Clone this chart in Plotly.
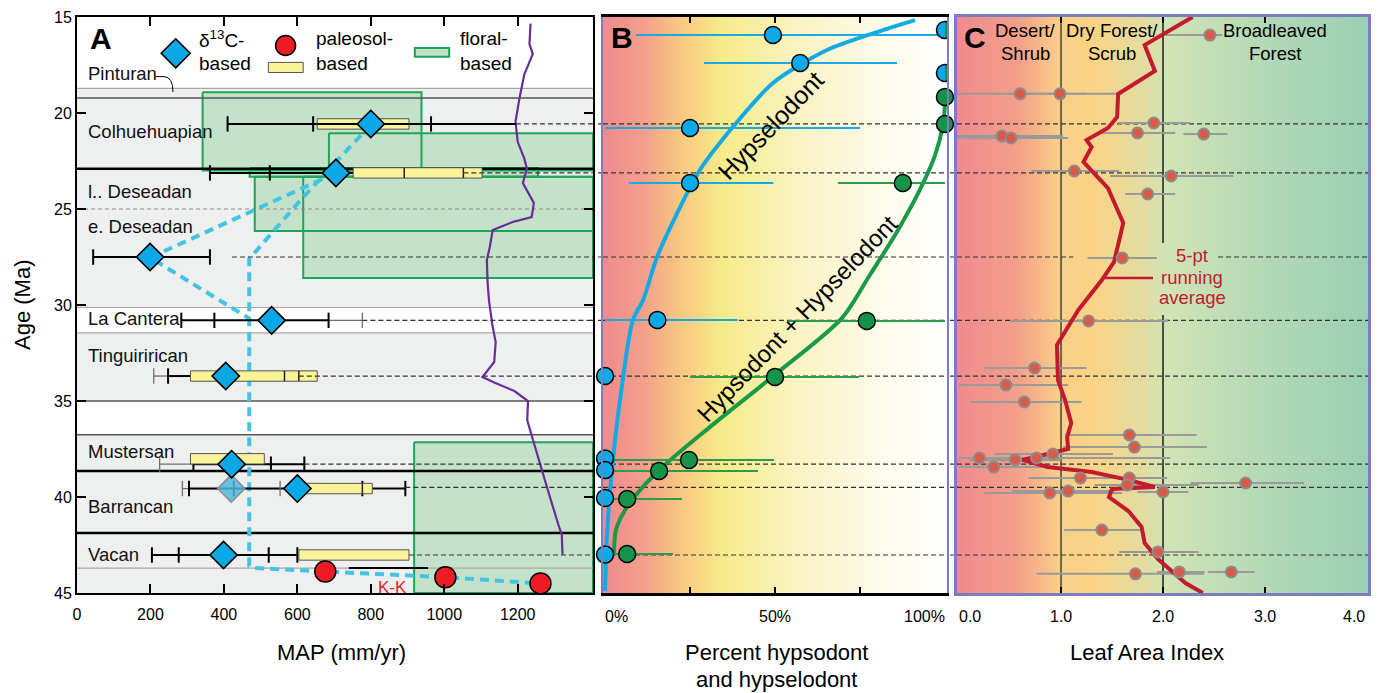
import plotly.graph_objects as go

# The page is shown with the browser's default 8px body margin, so the figure is
# made 8px smaller and every layout position is expressed in reference pixels minus 8.
OFF = 8
W, H = 1381 - OFF, 693 - OFF
FONT = "Liberation Sans, Arial, Helvetica, sans-serif"


def px(x):
    return (x - OFF) / W


def py(y):
    return 1 - (y - OFF) / H


# ---------------- Panel A data ----------------
map_ticks = [0, 200, 400, 600, 800, 1000, 1200]
age_ticks = [15, 20, 25, 30, 35, 40, 45]

stage_names = ["Pinturan", "Colhuehuapian", "l.. Deseadan", "e. Deseadan", "La Cantera",
               "Tinguirirican", "Mustersan", "Barrancan", "Vacan"]
stage_label_age = [17.95, 20.97, 24.09, 25.9, 30.69, 32.63, 37.63, 40.5, 43.01]

band_top = [18.72, 31.45, 36.76]
band_bottom = [30.13, 35.0, 45.0]
boundary_age = [18.72, 19.22, 22.9, 25.0, 30.13, 31.45, 35.0, 36.76, 38.65, 41.88, 43.7]
boundary_kind = ["thin", "mid", "thick", "dash", "thin", "thin", "mid", "mid", "thick", "thick", "thin"]

# floral-based MAP boxes
flo_map_lo = [342, 686, 470, 484, 616, 918]
flo_map_hi = [938, 1405, 1255, 1405, 1405, 1405]
flo_age_top = [18.92, 21.06, 22.87, 23.32, 23.32, 37.15]
flo_age_bot = [23.0, 23.0, 23.32, 26.15, 28.6, 45.0]

# d13C-based MAP
d13c_age = [20.57, 23.12, 27.5, 30.8, 33.7, 38.29, 39.56, 43.02]
d13c_map = [800, 705, 199, 530, 405, 421, 600, 399]
d13c_alt_age = [39.56]
d13c_alt_map = [420]

# error bars (black and grey)
eb_age = [20.57, 23.12, 27.5, 30.8, 33.7, 38.29, 39.56, 43.02]
eb_lo = [410, 362, 44, 284, 248, 317, 305, 204]
eb_hi = [1195, 752, 362, 685, 309, 619, 894, 604]
geb_age = [30.8, 33.7, 38.29, 39.56]
geb_lo = [685, 209, 225, 287]
geb_hi = [777, 248, 317, 553]
cap_age = [20.57, 20.57, 20.57, 23.12, 23.12, 27.5, 27.5, 30.8, 30.8, 30.8, 33.7,
           38.29, 38.29, 38.29, 39.56, 39.56, 39.56, 39.56, 43.02, 43.02, 43.02, 43.02]
cap_map = [410, 643, 964, 362, 525, 44, 362, 284, 374, 685, 248,
           317, 528, 619, 305, 427, 777, 894, 204, 277, 522, 600]
gcap_age = [30.8, 33.7, 38.29, 39.56, 39.56]
gcap_map = [777, 209, 225, 287, 553]

# paleosol-based MAP boxes and points
pbox_age = [20.57, 23.12, 33.7, 38.01, 39.56, 43.02]
pbox_lo = [654, 752, 309, 309, 620, 604]
pbox_hi = [904, 1103, 654, 510, 804, 904]
pdiv_age = [23.12, 23.12, 33.7, 33.7, 39.56]
pdiv_map = [891, 1052, 565, 604, 777]
pal_age = [43.88, 44.18, 44.5]
pal_map = [676, 1003, 1262]
pal_bar_age = [43.7]
pal_bar_lo = [740]
pal_bar_hi = [956]

# connecting (blue dashed) paths
conn1_map = [800, 779, 616, 469, 469, 482, 676, 1003, 1262]
conn1_age = [20.57, 21.04, 24.38, 27.6, 43.58, 43.7, 43.88, 44.18, 44.5]
conn2_map = [705, 199, 469]
conn2_age = [23.12, 27.53, 30.7]

# purple curve
purple_map = [1235, 1232, 1241, 1218, 1205, 1194, 1200, 1218, 1225, 1214, 1244, 1238, 1186, 1132,
              1124, 1116, 1118, 1122, 1131, 1140, 1136, 1104, 1136, 1191, 1228, 1226, 1242, 1265,
              1283, 1311, 1320, 1322]
purple_age = [15.34, 16.4, 16.93, 17.98, 19.21, 20.45, 21.5, 22.38, 22.9, 23.65, 24.69, 25.42, 25.68,
              26.09, 26.98, 27.66, 28.85, 29.8, 31.04, 31.93, 32.97, 33.75, 34.04, 34.48, 35.0, 36.0,
              37.06, 38.47, 39.7, 41.46, 41.98, 43.0]

# dashed correlation lines (ages) and their start in panel A
corr_age = [20.57, 23.12, 27.5, 30.8, 33.7, 38.29, 39.5, 43.02]
corr_start_map = [1195, 1052, 422, 777, 604, 619, 894, 904]

# ---------------- Panel B data ----------------
pct_tick_vals = [0, 50, 100]
pct_tick_text = ["0%", "50%", "100%"]

hyp_curve_pct = [0, 0.6, 2.1, 4.4, 8.2, 11.2, 15.3, 22.1, 27.9, 37.6, 49.4, 65.3, 81.8, 91.2]
hyp_curve_age = [44.9, 41.88, 38.44, 34.95, 30.78, 29.74, 27.5, 24.9, 22.97, 20.73, 18.44, 16.72, 15.68, 15.16]
hh_curve_pct = [2.6, 3.2, 5.9, 10.3, 18.2, 30.9, 50.6, 69.7, 77.9, 86.2, 92.6, 97.1, 99.4, 100.0]
hh_curve_age = [42.92, 41.72, 40.68, 39.64, 38.23, 36.35, 33.54, 30.68, 28.44, 26.09, 24.01, 22.19, 20.63, 19.58]

hyp_age = [15.94, 17.4, 20.78, 23.65, 30.78, 33.7, 38.0, 38.6, 40.05, 43.0]
hyp_pct = [49.4, 57.4, 25.0, 25.0, 15.4, 0, 0, 0, 0, 0]
hyp_lo = [9.1, 29.1, 0.0, 7.0, 0.0, 0, 0, 0, 0, 0]
hyp_hi = [100, 85.9, 75.0, 49.5, 39.0, 0, 0, 0, 0, 0]

hh_age = [19.17, 20.57, 23.65, 30.83, 33.75, 38.07, 38.65, 40.1, 42.97]
hh_pct = [100, 100, 87.6, 77.0, 50.0, 24.7, 15.9, 6.5, 6.5]
hh_lo = [100, 100, 68.5, 53.8, 25.0, 0, 0, 0, 0]
hh_hi = [100, 100, 100, 100, 74.7, 49.7, 45.0, 22.6, 20.0]

split_age = [15.68, 17.92]
split_pct = [100, 100]

# ---------------- Panel C data ----------------
lai_tick_vals = [0, 1, 2, 3, 4]
lai_tick_text = ["0.0", "1.0", "2.0", "3.0", "4.0"]

lai = [2.46, 0.60, 0.99, 1.91, 0.42, 0.51, 1.75, 2.40, 1.13, 2.08, 1.85, 1.60, 1.27, 0.74, 0.46,
       0.64, 1.67, 1.72, 0.92, 0.20, 0.76, 0.55, 0.34, 1.19, 1.67, 1.65, 2.81, 1.07, 0.89, 2.00,
       1.40, 1.95, 1.73, 2.16, 2.67]
lai_age = [15.94, 19.0, 19.0, 20.52, 21.2, 21.3, 21.04, 21.1, 23.02, 23.28, 24.22, 27.55, 30.83,
           33.28, 34.17, 35.05, 36.77, 37.40, 37.76, 37.97, 37.97, 38.07, 38.44, 39.01, 39.01, 39.38,
           39.27, 39.69, 39.79, 39.74, 41.72, 42.86, 44.0, 43.9, 43.9]
lai_lo = [2.02, -0.04, 0.48, 1.56, -0.04, -0.04, 1.40, 2.20, 0.71, 1.48, 1.63, 1.26, 0.50, 0.25, 0.0,
          0.11, 1.04, 1.02, 0.35, 0.0, 0.35, 0.10, 0.0, 0.68, 1.33, 1.33, 2.27, 0.52, 0.25, 1.75,
          1.03, 1.57, 0.76, 1.94, 2.44]
lai_hi = [2.58, 1.25, 1.55, 2.27, 1.02, 1.07, 2.12, 2.63, 1.57, 2.69, 2.12, 1.94, 2.05, 1.25, 1.07,
          1.20, 2.33, 2.43, 1.51, 1.33, 2.07, 1.00, 0.94, 2.04, 1.99, 2.35, 3.38, 1.53, 1.60, 2.25,
          1.78, 2.35, 2.40, 2.41, 2.90]

run_lai = [2.29, 1.82, 1.92, 1.56, 1.55, 1.46, 1.25, 1.30, 1.22, 1.46, 1.61, 1.52, 1.40, 1.17, 0.96,
           0.97, 1.04, 1.10, 1.06, 1.07, 0.91, 0.62, 0.87, 1.30, 1.66, 1.92, 1.50, 1.47, 1.66, 1.79,
           1.82, 1.95, 2.22, 2.39]
run_age = [15.0, 16.46, 17.81, 19.01, 20.21, 20.78, 21.41, 21.77, 22.55, 23.91, 25.73, 27.76, 28.7,
           30.26, 32.08, 33.91, 34.95, 36.15, 36.88, 37.5, 37.71, 38.07, 38.44, 38.7, 39.11, 39.48,
           39.58, 40.0, 40.73, 41.56, 42.4, 43.23, 44.48, 45.0]

zone_bounds = [1.0, 2.0]
c_gap_age, c_gap_lo, c_gap_hi = 27.5, 1.12, 2.54

# ---------------- styles ----------------
BLUE = "#0aa8e6"
RED = "#ed1c24"
YELLOW = "#fbf39a"
FLO_FILL = "#c4e2c9"
FLO_LINE = "#1fa557"
PURPLE = "#6a2c9a"
BAND = "#eef0ef"
CONN = "#45c3e3"
FRAME_BC = "#7b7dbf"

B_scale = [[0.0, "#f08a8e"], [0.12, "#f3a08a"], [0.22, "#f8c682"], [0.35, "#f7ec8a"],
           [0.55, "#faf2bf"], [0.8, "#fdfbe9"], [1.0, "#ffffff"]]
C_scale = [[0.0, "#f08a8e"], [0.15, "#f3a08a"], [0.25, "#fbcf88"], [0.34, "#fad487"],
           [0.45, "#e3dca0"], [0.51, "#d1e4b5"], [0.75, "#b3d9b6"], [1.0, "#9bcfb2"]]

XA = [0, 1405]
XB = [-0.6, 100.6]
XC = [-0.02, 4.01]
YR = [45, 15]


def segs(x0s, x1s, ys):
    xs, yv = [], []
    for a, b, c in zip(x0s, x1s, ys):
        xs += [a, b, None]
        yv += [c, c, None]
    return xs, yv


def vsegs(xs_, y0s, y1s):
    xs, yv = [], []
    for a, b, c in zip(xs_, y0s, y1s):
        xs += [a, a, None]
        yv += [b, c, None]
    return xs, yv


def boxes(x0s, x1s, y0s, y1s):
    xs, yv = [], []
    for a, b, c, d in zip(x0s, x1s, y0s, y1s):
        xs += [a, b, b, a, a, None]
        yv += [c, c, d, d, c, None]
    return xs, yv


fig = go.Figure()


def add(tr):
    tr.showlegend = False
    tr.hoverinfo = "skip"
    fig.add_trace(tr)


# ================= Panel A =================
fx, fy = boxes(flo_map_lo, flo_map_hi, flo_age_top, flo_age_bot)
add(go.Scatter(x=fx, y=fy, mode="lines", fill="toself", fillcolor=FLO_FILL,
               line=dict(width=0), xaxis="x", yaxis="y"))
add(go.Scatter(x=fx, y=fy, mode="lines", line=dict(color=FLO_LINE, width=2), xaxis="x", yaxis="y"))

kind_style = {"thin": ("#a8a8a8", 1.2, "solid"), "mid": ("#555555", 1.5, "solid"),
              "thick": ("#000000", 2.5, "solid"), "dash": ("#8a8a8a", 1.2, "4px,3px")}
for kind in ["thin", "mid", "dash", "thick"]:
    ages = [a for a, k in zip(boundary_age, boundary_kind) if k == kind]
    bx, by = segs([XA[0]] * len(ages), [XA[1]] * len(ages), ages)
    c, w, d = kind_style[kind]
    add(go.Scatter(x=bx, y=by, mode="lines", line=dict(color=c, width=w, dash=d), xaxis="x", yaxis="y"))

add(go.Scatter(x=conn1_map, y=conn1_age, mode="lines", line=dict(color=CONN, width=4, dash="9px,6px"),
               xaxis="x", yaxis="y"))
add(go.Scatter(x=conn2_map, y=conn2_age, mode="lines", line=dict(color=CONN, width=4, dash="9px,6px"),
               xaxis="x", yaxis="y"))

add(go.Scatter(x=purple_map, y=purple_age, mode="lines", line=dict(color=PURPLE, width=2.2),
               xaxis="x", yaxis="y"))

gx, gy = segs(geb_lo, geb_hi, geb_age)
add(go.Scatter(x=gx, y=gy, mode="lines", line=dict(color="#6e6e6e", width=1.3), xaxis="x", yaxis="y"))
ex, ey = segs(eb_lo, eb_hi, eb_age)
add(go.Scatter(x=ex, y=ey, mode="lines", line=dict(color="black", width=2), xaxis="x", yaxis="y"))
add(go.Scatter(x=pal_bar_lo + pal_bar_hi, y=pal_bar_age * 2, mode="lines",
               line=dict(color="black", width=2), xaxis="x", yaxis="y"))
add(go.Scatter(x=gcap_map, y=gcap_age, mode="markers",
               marker=dict(symbol="line-ns", size=11, line=dict(color="#6e6e6e", width=1.3)),
               xaxis="x", yaxis="y"))
add(go.Scatter(x=cap_map, y=cap_age, mode="markers",
               marker=dict(symbol="line-ns", size=11, line=dict(color="black", width=2)),
               xaxis="x", yaxis="y"))

PH = 0.27
yx, yy = boxes(pbox_lo, pbox_hi, [a - PH for a in pbox_age], [a + PH for a in pbox_age])
add(go.Scatter(x=yx, y=yy, mode="lines", fill="toself", fillcolor=YELLOW,
               line=dict(color="#555555", width=1), xaxis="x", yaxis="y"))
dx_, dy_ = vsegs(pdiv_map, [a - PH for a in pdiv_age], [a + PH for a in pdiv_age])
add(go.Scatter(x=dx_, y=dy_, mode="lines", line=dict(color="#222222", width=1.5), xaxis="x", yaxis="y"))
add(go.Scatter(x=[pbox_lo[0], pbox_hi[0]], y=[pbox_age[0]] * 2, mode="lines",
               line=dict(color="black", width=2), xaxis="x", yaxis="y"))

cx_, cy_ = segs(corr_start_map, [XA[1]] * len(corr_age), corr_age)
add(go.Scatter(x=cx_, y=cy_, mode="lines", line=dict(color="#333333", width=1.2, dash="5px,3px"),
               xaxis="x", yaxis="y"))

add(go.Scatter(x=d13c_alt_map, y=d13c_alt_age, mode="markers",
               marker=dict(symbol="diamond", size=21, color="rgba(80,182,222,0.85)",
                           line=dict(color="#8a8a8a", width=1.5)), xaxis="x", yaxis="y"))
add(go.Scatter(x=d13c_map, y=d13c_age, mode="markers", cliponaxis=False,
               marker=dict(symbol="diamond", size=21, color=BLUE, line=dict(color="black", width=1.6)),
               xaxis="x", yaxis="y"))
add(go.Scatter(x=pal_map, y=pal_age, mode="markers", cliponaxis=False,
               marker=dict(symbol="circle", size=21, color=RED, line=dict(color="black", width=1.5)),
               xaxis="x", yaxis="y"))

# ================= Panel B =================
add(go.Scatter(x=[XB[0], XB[1], XB[1], XB[0], XB[0]], y=[45, 45, 15, 15, 45], mode="lines",
               line=dict(width=0), fill="toself",
               fillgradient=dict(type="horizontal", colorscale=B_scale), xaxis="x2", yaxis="y2"))
bx_, by_ = segs([XB[0]] * len(corr_age), [XB[1]] * len(corr_age), corr_age)
add(go.Scatter(x=bx_, y=by_, mode="lines", line=dict(color="#333333", width=1.2, dash="5px,3px"),
               xaxis="x2", yaxis="y2"))
add(go.Scatter(x=hyp_curve_pct, y=hyp_curve_age, mode="lines", line=dict(color="#12a9e6", width=4,
               shape="spline", smoothing=0.8), xaxis="x2", yaxis="y2"))
add(go.Scatter(x=hh_curve_pct, y=hh_curve_age, mode="lines", line=dict(color="#1a9a48", width=4,
               shape="spline", smoothing=0.8), xaxis="x2", yaxis="y2"))
hx, hy = segs(hyp_lo, hyp_hi, hyp_age)
add(go.Scatter(x=hx, y=hy, mode="lines", line=dict(color="#19a9e5", width=2), xaxis="x2", yaxis="y2"))
gx2, gy2 = segs(hh_lo, hh_hi, hh_age)
add(go.Scatter(x=gx2, y=gy2, mode="lines", line=dict(color="#2b9c4d", width=2), xaxis="x2", yaxis="y2"))
add(go.Scatter(x=hh_pct, y=hh_age, mode="markers", cliponaxis=False,
               marker=dict(size=17, color="#16924a", line=dict(color="black", width=1.5)),
               xaxis="x2", yaxis="y2"))
add(go.Scatter(x=hyp_pct, y=hyp_age, mode="markers", cliponaxis=False,
               marker=dict(size=17, color="#0aa9e8", line=dict(color="black", width=1.5)),
               xaxis="x2", yaxis="y2"))

# ================= Panel C =================
add(go.Scatter(x=[XC[0], XC[1], XC[1], XC[0], XC[0]], y=[45, 45, 15, 15, 45], mode="lines",
               line=dict(width=0), fill="toself",
               fillgradient=dict(type="horizontal", colorscale=C_scale), xaxis="x3", yaxis="y3"))
add(go.Scatter(x=[zone_bounds[0], zone_bounds[0]], y=[45, 15], mode="lines",
               line=dict(color="#3a3a30", width=1.4), xaxis="x3", yaxis="y3"))
add(go.Scatter(x=[zone_bounds[1], zone_bounds[1], None, zone_bounds[1], zone_bounds[1]],
               y=[15, 26.77, None, 30.52, 45], mode="lines",
               line=dict(color="#111111", width=1.4), xaxis="x3", yaxis="y3"))
c_lo, c_hi, c_ages = [], [], []
for a in corr_age:
    if a == c_gap_age:
        c_lo += [XC[0], c_gap_hi]
        c_hi += [c_gap_lo, XC[1]]
        c_ages += [a, a]
    else:
        c_lo.append(XC[0])
        c_hi.append(XC[1])
        c_ages.append(a)
cx3, cy3 = segs(c_lo, c_hi, c_ages)
add(go.Scatter(x=cx3, y=cy3, mode="lines", line=dict(color="#333333", width=1.2, dash="5px,3px"),
               xaxis="x3", yaxis="y3"))
lx, ly = segs(lai_lo, lai_hi, lai_age)
add(go.Scatter(x=lx, y=ly, mode="lines", line=dict(color="#9a9a9a", width=2), xaxis="x3", yaxis="y3"))
add(go.Scatter(x=run_lai, y=run_age, mode="lines", line=dict(color="#c41a30", width=4),
               xaxis="x3", yaxis="y3"))
add(go.Scatter(x=lai, y=lai_age, mode="markers", cliponaxis=False,
               marker=dict(size=11, color="#dc5a45", line=dict(color="#8c8c8c", width=2)),
               xaxis="x3", yaxis="y3"))

# ================= shapes =================
shapes = []
for t, b in zip(band_top, band_bottom):
    shapes.append(dict(type="rect", xref="x", yref="y", x0=XA[0], x1=XA[1], y0=t, y1=b,
                       fillcolor=BAND, line=dict(width=0), layer="below"))
for a in corr_age:
    shapes.append(dict(type="line", xref="paper", yref="y", x0=px(590), x1=px(962), y0=a, y1=a,
                       line=dict(color="#333333", width=1.2, dash="5px,3px"), layer="below"))
shapes.append(dict(type="path", xref="paper", yref="paper",
                   path=f"M{px(156)},{py(76.6)} L{px(164)},{py(76.6)} Q{px(173)},{py(77)} {px(173)},{py(92)}",
                   line=dict(color="black", width=1)))
cx, cy, hh = 175.7, 53.3, 14.5
shapes.append(dict(type="path", xref="paper", yref="paper",
                   path=f"M{px(cx-hh)},{py(cy)} L{px(cx)},{py(cy-hh)} L{px(cx+hh)},{py(cy)} L{px(cx)},{py(cy+hh)} Z",
                   fillcolor=BLUE, line=dict(color="black", width=1.6)))
shapes.append(dict(type="circle", xref="paper", yref="paper", x0=px(275.6), x1=px(295.6),
                   y0=py(55.5), y1=py(35.5), fillcolor=RED, line=dict(color="black", width=1.5)))
shapes.append(dict(type="rect", xref="paper", yref="paper", x0=px(268.4), x1=px(303.2),
                   y0=py(72.5), y1=py(62.4), fillcolor=YELLOW, line=dict(color="#555555", width=1)))
shapes.append(dict(type="rect", xref="paper", yref="paper", x0=px(414.8), x1=px(449.2),
                   y0=py(56.7), y1=py(47.9), fillcolor=FLO_FILL, line=dict(color=FLO_LINE, width=2)))
shapes.append(dict(type="line", xref="paper", yref="paper", x0=px(1105), x1=px(1153), y0=py(278),
                   y1=py(278), line=dict(color="#c41a30", width=2.5)))
r = 8.5
k = 0.5523 * r
left_half = f"M0,{r} C{-k},{r} {-r},{k} {-r},0 C{-r},{-k} {-k},{-r} 0,{-r} Z"
right_half = f"M0,{r} C{k},{r} {r},{k} {r},0 C{r},{-k} {k},{-r} 0,{-r} Z"
full = (f"M0,{r} C{k},{r} {r},{k} {r},0 C{r},{-k} {k},{-r} 0,{-r} "
        f"C{-k},{-r} {-r},{-k} {-r},0 C{-r},{k} {-k},{r} 0,{r} Z")
for a, p in zip(split_age, split_pct):
    for path_, col in [(left_half, "#0aa9e8"), (right_half, "#16924a")]:
        shapes.append(dict(type="path", xref="x2", yref="y2", xsizemode="pixel", ysizemode="pixel",
                           xanchor=p, yanchor=a, path=path_, fillcolor=col, line=dict(width=0),
                           layer="above"))
    shapes.append(dict(type="path", xref="x2", yref="y2", xsizemode="pixel", ysizemode="pixel",
                       xanchor=p, yanchor=a, path=full, fillcolor="rgba(0,0,0,0)",
                       line=dict(color="black", width=1.5), layer="above"))

# ================= annotations =================
ann = []


def text(x, y, s, size=18, color="black", xanchor="center", yanchor="middle", angle=0, bold=False):
    ann.append(dict(x=x, y=y, xref="paper", yref="paper", text=f"<b>{s}</b>" if bold else s,
                    showarrow=False, xanchor=xanchor, yanchor=yanchor, textangle=angle,
                    font=dict(family=FONT, size=size, color=color)))


text(px(101), py(38.7), "A", size=30, bold=True)
text(px(622), py(37), "B", size=30, bold=True)
text(px(975), py(38), "C", size=30, bold=True)

for x0, l1, l2 in [(197.4, "δ<sup>13</sup>C-", "based"), (314, "paleosol-", "based"), (457.7, "floral-", "based")]:
    text(px(x0), py(38.7), l1, size=19, xanchor="left")
    text(px(x0), py(64), l2, size=19, xanchor="left")

for name, age in zip(stage_names, stage_label_age):
    ann.append(dict(x=px(86), y=age, xref="paper", yref="y", text=name, showarrow=False,
                    xanchor="left", yanchor="middle", font=dict(family=FONT, size=18.5, color="#111111")))
ann.append(dict(x=860, y=44.7, xref="x", yref="y", text="K-K", showarrow=False,
                font=dict(family=FONT, size=17, color="#e8202a")))

for xc, l1, l2 in [(1025, "Desert/", "Shrub"), (1112, "Dry Forest/", "Scrub"), (1275, "Broadleaved", "Forest")]:
    text(px(xc), py(30), l1, size=18.5)
    text(px(xc), py(53), l2, size=18.5)
for yy_, s in [(255, "5-pt"), (277, "running"), (298, "average")]:
    text(px(1192), py(yy_), s, size=18.5, color="#c41a30")

text(px(771), py(125), "Hypselodont", size=25, angle=-46)
text(px(797), py(318), "Hypsodont + Hypselodont", size=24, angle=-46)

TICK_Y = 616
for v, s in zip(pct_tick_vals, pct_tick_text):
    xa = "left" if v == pct_tick_vals[0] else ("right" if v == pct_tick_vals[-1] else "center")
    xv = XB[0] if xa == "left" else (XB[1] if xa == "right" else v)
    ann.append(dict(x=xv, y=py(TICK_Y), xref="x2", yref="paper", text=s, showarrow=False,
                    xanchor=xa, yanchor="middle", font=dict(family=FONT, size=16, color="black")))
for v, s in zip(lai_tick_vals, lai_tick_text):
    xa = "left" if v == lai_tick_vals[0] else ("right" if v == lai_tick_vals[-1] else "center")
    xv = XC[0] if xa == "left" else v
    ann.append(dict(x=xv, y=py(TICK_Y), xref="x3", yref="paper", text=s, showarrow=False,
                    xanchor=xa, yanchor="middle", font=dict(family=FONT, size=16, color="black")))

text(px(341), py(652), "MAP (mm/yr)", size=22)
text(px(776), py(652), "Percent hypsodont", size=22)
text(px(776), py(679), "and hypselodont", size=22)
text(px(1147), py(652), "Leaf Area Index", size=22)
text(px(22), py(305), "Age (Ma)", size=22, angle=-90)

# ================= layout =================
ydom = [py(593), py(17)]
common_y = dict(range=YR, showgrid=False, zeroline=False, automargin=False)
fig.update_layout(
    width=W, height=H, margin=dict(l=0, r=0, t=0, b=0, autoexpand=False),
    paper_bgcolor="white", plot_bgcolor="white", showlegend=False,
    font=dict(family=FONT, color="black"),
    xaxis=dict(domain=[px(77), px(593)], range=XA, anchor="y", tickvals=map_ticks, automargin=False,
               ticks="inside", ticklen=9, tickwidth=1.5, tickcolor="black", showline=True,
               linecolor="black", linewidth=2, mirror="ticks", showgrid=False, zeroline=False,
               tickfont=dict(family=FONT, size=16, color="black"), ticklabelstandoff=6),
    yaxis=dict(domain=ydom, anchor="x", tickvals=age_ticks, ticks="inside", ticklen=9, tickwidth=1.5,
               tickcolor="black", showline=True, linecolor="black", linewidth=2, mirror="ticks",
               tickfont=dict(family=FONT, size=16, color="black"), **common_y),
    xaxis2=dict(domain=[px(603), px(947)], range=XB, anchor="y2", tickvals=[25, 50, 75], automargin=False,
                ticks="inside", ticklen=6, tickwidth=1.5, tickcolor="black", showticklabels=False,
                showline=True, linecolor="black", linewidth=2.5, mirror="ticks", showgrid=False,
                zeroline=False),
    yaxis2=dict(domain=ydom, anchor="x2", showticklabels=False, ticks="", showline=True,
                linecolor=FRAME_BC, linewidth=2, mirror=True, **common_y),
    xaxis3=dict(domain=[px(957), px(1368)], range=XC, anchor="y3", tickvals=[1, 2, 3], automargin=False,
                ticks="inside", ticklen=6, tickwidth=1.5, tickcolor="black", showticklabels=False,
                showline=True, linecolor=FRAME_BC, linewidth=2.5, mirror="ticks", showgrid=False,
                zeroline=False),
    yaxis3=dict(domain=ydom, anchor="x3", showticklabels=False, ticks="", showline=True,
                linecolor=FRAME_BC, linewidth=2.5, mirror=True, **common_y),
    shapes=shapes, annotations=ann,
)

fig.write_html("out.html")
